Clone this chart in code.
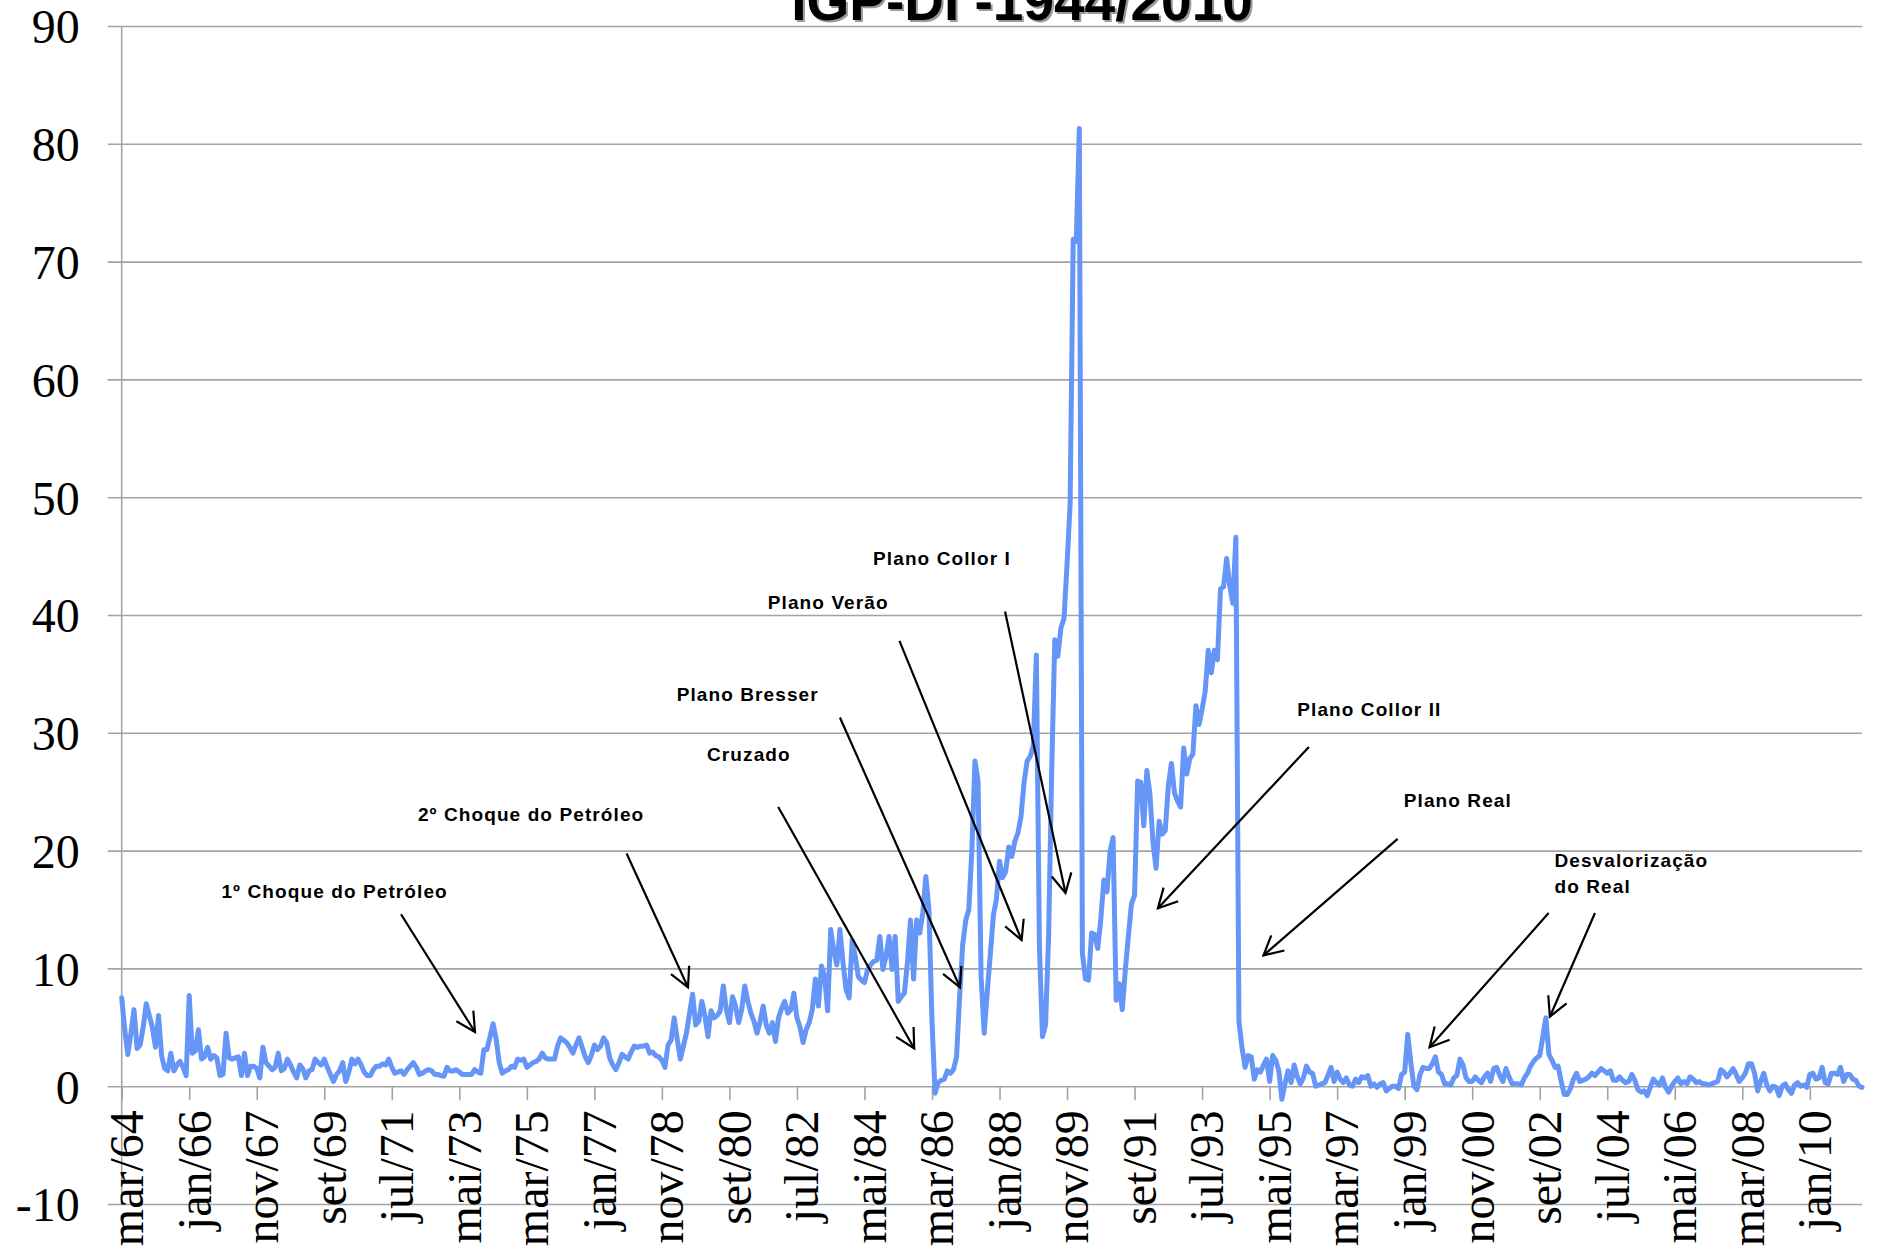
<!DOCTYPE html>
<html>
<head>
<meta charset="utf-8">
<script src="https://cdn.jsdelivr.net/npm/d3@7"></script>
<style>
  body { margin: 0; background: #fff; }
  svg { display: block; }
</style>
</head>
<body>
<div id="chart"></div>
<script>
// IGP-DI, variação mensal (%), mar/64 - jun/11
const igp1964to1969 = [
  7.5, 4.8, 2.7, 4.5, 6.5, 3.2, 3.5, 5.0, 7.0, 6.0,
  5.0, 3.3, 6.0, 2.6, 1.5, 1.3, 2.8, 1.3, 1.8, 2.1, 1.6, 0.9,
  7.7, 2.8, 3.0, 4.8, 2.3, 2.5, 3.3, 2.3, 2.6, 2.4, 0.9, 1.0,
  4.5, 2.4, 2.3, 2.4, 2.5, 0.9, 2.8, 0.9, 1.7, 1.7, 1.5, 0.7,
  3.3, 2.0, 1.7, 1.4, 1.6, 2.8, 1.3, 1.5, 2.3, 1.8, 1.2, 0.7,
  1.8, 1.5, 0.7, 1.3, 1.4, 2.3, 2.0, 1.8, 2.3, 1.6, 1.0, 0.4
];
const igp1970s = [
  1.0, 1.3, 2.0, 0.4, 1.2, 2.3, 1.9, 2.3, 1.8, 1.2, 0.9, 0.9,
  1.4, 1.7, 1.7, 1.9, 1.8, 2.3, 1.6, 1.1, 1.2, 1.3, 1.0, 1.4,
  1.7, 2.0, 1.6, 1.0, 1.1, 1.3, 1.4, 1.3, 1.0, 1.0, 0.9, 0.85,
  1.6, 1.3, 1.3, 1.4, 1.2, 1.0, 1.0, 1.0, 1.0, 1.4, 1.2, 1.1,
  3.1, 3.1, 4.2, 5.3, 4.0, 2.0, 1.1, 1.3, 1.4, 1.7, 1.6, 2.3,
  2.2, 2.3, 1.6, 1.8, 2.0, 2.1, 2.3, 2.8, 2.4, 2.3, 2.3, 2.3,
  3.4, 4.1, 3.9, 3.7, 3.3, 2.8, 3.5, 4.1, 3.3, 2.5, 2.0, 2.6,
  3.5, 3.1, 3.4, 4.1, 3.7, 2.4, 1.8, 1.4, 2.0, 2.7, 2.5, 2.3,
  2.9, 3.4, 3.3, 3.4, 3.4, 3.5, 2.8, 2.9, 2.6, 2.5, 2.2, 1.6,
  3.5, 3.9, 5.8, 4.0, 2.3, 3.4, 4.5, 6.2, 7.8, 5.2, 5.5, 7.2
];
const igp1980s = [
  6.0, 4.2, 6.4, 5.8, 6.0, 6.4, 8.5, 6.5, 5.4, 7.6, 6.8, 5.4,
  6.5, 8.5, 7.2, 6.2, 5.5, 4.5, 5.5, 6.8, 5.2, 4.5, 5.4, 3.8,
  5.8, 6.6, 7.2, 6.2, 6.5, 7.9, 5.8, 5.0, 3.7, 4.8, 5.4, 6.5,
  9.1, 6.8, 10.2, 9.3, 6.4, 13.3, 11.5, 10.3, 13.3, 10.5, 8.2, 7.5,
  12.4, 11.0, 9.3, 9.0, 8.8, 9.9, 10.3, 10.6, 10.7, 12.7, 9.9, 11.0,
  12.7, 9.9, 12.7, 7.2, 7.6, 7.9, 10.5, 14.1, 9.1, 14.1, 13.0, 14.7,
  17.8, 15.0, 5.5, -0.6, 0.3, 0.5, 0.6, 1.3, 1.1, 1.4, 2.5, 7.6,
  12.0, 14.1, 15.0, 20.1, 27.6, 25.9, 9.3, 4.5, 8.0, 11.2, 14.5, 15.9,
  19.1, 17.7, 18.2, 20.3, 19.5, 20.8, 21.5, 22.9, 25.8, 27.6, 28.0, 28.9,
  36.6, 11.8, 4.2, 5.2, 12.8, 26.8, 37.9, 36.5, 38.9, 39.7, 44.3, 49.4
];
const igp1990s = [
  71.9, 71.7, 81.3, 11.3, 9.1, 9.0, 13.0, 12.9, 11.7, 14.2, 17.5, 16.5,
  19.9, 21.1, 7.3, 8.7, 6.5, 9.9, 12.8, 15.5, 16.2, 25.9, 25.8, 22.1,
  26.8, 24.8, 20.7, 18.5, 22.5, 21.4, 21.7, 25.5, 27.4, 24.9, 24.2, 23.7,
  28.7, 26.5, 27.8, 28.2, 32.3, 30.7, 32.0, 33.5, 37.0, 35.1, 37.0, 36.2,
  42.2, 42.4, 44.8, 42.5, 41.0, 46.6, 5.5, 3.3, 1.6, 2.6, 2.5, 0.6,
  1.4, 1.2, 1.8, 2.3, 0.4, 2.6, 2.2, 1.3, -1.1, 0.2, 1.3, 0.3,
  1.8, 0.8, 0.2, 0.7, 1.7, 1.2, 1.1, 0.0, 0.1, 0.2, 0.3, 0.9,
  1.6, 0.4, 1.2, 0.6, 0.3, 0.7, 0.1, 0.0, 0.6, 0.3, 0.8, 0.7,
  0.9, 0.0, 0.2, -0.1, 0.2, 0.3, -0.4, -0.2, 0.0, 0.0, -0.2, 1.0,
  1.2, 4.4, 2.0, 0.0, -0.3, 1.0, 1.6, 1.5, 1.5, 1.9, 2.5, 1.2
];
const igp2000s = [
  1.0, 0.2, 0.2, 0.1, 0.7, 0.9, 2.3, 1.8, 0.7, 0.4, 0.4, 0.8,
  0.5, 0.3, 0.8, 1.1, 0.4, 1.5, 1.6, 0.9, 0.4, 1.5, 0.8, 0.2,
  0.2, 0.2, 0.1, 0.7, 1.1, 1.7, 2.1, 2.4, 2.6, 4.2, 5.8, 2.7,
  2.2, 1.6, 1.7, 0.4, -0.7, -0.7, -0.2, 0.6, 1.1, 0.4, 0.5, 0.6,
  0.8, 1.1, 0.9, 1.2, 1.5, 1.3, 1.1, 1.3, 0.5, 0.5, 0.8, 0.5,
  0.3, 0.4, 1.0, 0.5, -0.3, -0.5, -0.4, -0.8, -0.1, 0.6, 0.3, 0.1,
  0.7, -0.1, -0.5, 0.0, 0.4, 0.7, 0.2, 0.4, 0.2, 0.8, 0.6, 0.3,
  0.4, 0.2, 0.2, 0.1, 0.2, 0.3, 0.4, 1.4, 1.2, 0.8, 1.1, 1.5,
  1.0, 0.4, 0.7, 1.1, 1.9, 1.9, 1.1, -0.4, 0.4, 1.1, 0.1, -0.4,
  0.0, -0.1, -0.8, 0.0, 0.2, -0.3, -0.6, 0.1, 0.3, 0.0, 0.1, -0.1
];
const igp2010s = [
  1.0, 1.1, 0.6, 0.7, 1.6, 0.3, 0.2, 1.1, 1.1, 1.0, 1.6, 0.4,
  1.0, 1.0, 0.6, 0.5, 0.0, -0.1
];
const igpdi = [].concat(igp1964to1969, igp1970s, igp1980s, igp1990s, igp2000s, igp2010s);

const tickLabels = [
  "mar/64", "jan/66", "nov/67", "set/69", "jul/71", "mai/73", "mar/75", "jan/77", "nov/78",
  "set/80", "jul/82", "mai/84", "mar/86", "jan/88", "nov/89", "set/91", "jul/93", "mai/95",
  "mar/97", "jan/99", "nov/00", "set/02", "jul/04", "mai/06", "mar/08", "jan/10"
];
const tickEvery = 22; // one label every 22 months
const yTicks = [-10, 0, 10, 20, 30, 40, 50, 60, 70, 80, 90];

// annotations: label at (month, value), arrow from -> to in the same units
const notes = [
  { lines: ["1º Choque do Petróleo"], at: [32.5, 16.6], from: [91.0, 14.6], to: [115.1, 4.6] },
  { lines: ["2º Choque do Petróleo"], at: [96.5, 23.1], from: [164.5, 19.75], to: [184.5, 8.4] },
  { lines: ["Cruzado"], at: [190.7, 28.2], from: [213.9, 23.7], to: [258.2, 3.2] },
  { lines: ["Plano Bresser"], at: [180.8, 33.3], from: [234.0, 31.3], to: [273.1, 8.4] },
  { lines: ["Plano Verão"], at: [210.5, 41.1], from: [253.4, 37.8], to: [293.2, 12.4] },
  { lines: ["Plano Collor I"], at: [244.8, 44.8], from: [287.8, 40.3], to: [307.5, 16.4] },
  { lines: ["Plano Collor II"], at: [383.0, 32.0], from: [386.8, 28.8], to: [337.6, 15.1] },
  { lines: ["Plano Real"], at: [417.7, 24.3], from: [415.7, 21.0], to: [372.0, 11.1] },
  { lines: ["Desvalorização", "do Real"], at: [466.8, 19.2], from: [464.9, 14.7], to: [426.1, 3.3] },
  { lines: [], at: [0, 0], from: [480.0, 14.7], to: [465.3, 5.9] }
];

const width = 1878;
const height = 1254;
const plot = { left: 121.7, right: 1862, top: 26, bottom: 1204 };

const svg = d3
  .select("#chart")
  .append("svg")
  .attr("width", width)
  .attr("height", height)
  .style("background", "#fff");

const x = d3
  .scaleLinear()
  .domain([0, igpdi.length - 1])
  .range([plot.left, plot.right]);

const y = d3
  .scaleLinear()
  .domain([-10, 90])
  .range([plot.bottom, plot.top]);

// title (cut off at the top like the original)
const titleText = "IGP-DI -1944/2010";
svg
  .append("text")
  .attr("x", 1024)
  .attr("y", 22)
  .attr("text-anchor", "middle")
  .attr("font-family", "'Liberation Sans', Arial, sans-serif")
  .attr("font-weight", "bold")
  .attr("font-size", 55)
  .attr("fill", "#9a9a9a")
  .text(titleText);
svg
  .append("text")
  .attr("x", 1022)
  .attr("y", 20)
  .attr("text-anchor", "middle")
  .attr("font-family", "'Liberation Sans', Arial, sans-serif")
  .attr("font-weight", "bold")
  .attr("font-size", 55)
  .attr("fill", "#000")
  .text(titleText);

// y axis with gridlines
const yAxis = svg
  .append("g")
  .attr("transform", `translate(${plot.left},0)`)
  .call(
    d3
      .axisLeft(y)
      .tickValues(yTicks)
      .tickFormat((d) => (d < 0 ? "-" + Math.abs(d) : String(d)))
      .tickSizeInner(-(plot.right - plot.left))
      .tickSizeOuter(0)
      .tickPadding(42)
  );
yAxis.select(".domain").remove();
yAxis
  .selectAll(".tick line")
  .attr("x1", -14)
  .attr("stroke", "#a3a3a3")
  .attr("stroke-width", 1.6);
yAxis
  .selectAll(".tick text")
  .attr("font-family", "'Liberation Serif', 'Times New Roman', serif")
  .attr("font-size", 48)
  .attr("fill", "#000")
  .attr("dy", "0.35em");

svg
  .append("line")
  .attr("x1", plot.left)
  .attr("x2", plot.left)
  .attr("y1", y(90))
  .attr("y2", y(-10))
  .attr("stroke", "#a3a3a3")
  .attr("stroke-width", 1.6);

// x axis on the zero line
const xTickValues = tickLabels.map((d, i) => i * tickEvery);
const xAxis = svg
  .append("g")
  .attr("transform", `translate(0,${y(0)})`)
  .call(
    d3
      .axisBottom(x)
      .tickValues(xTickValues)
      .tickFormat((d, i) => tickLabels[i])
      .tickSize(14)
  );
xAxis.select(".domain").remove();
xAxis.selectAll(".tick line").attr("stroke", "#a3a3a3").attr("stroke-width", 1.6);
xAxis
  .selectAll(".tick text")
  .attr("transform", "rotate(-90)")
  .attr("text-anchor", "end")
  .attr("x", -24)
  .attr("y", 4)
  .attr("dy", "0.35em")
  .attr("font-family", "'Liberation Serif', 'Times New Roman', serif")
  .attr("font-size", 48)
  .attr("fill", "#000");

// series
const line = d3
  .line()
  .x((d, i) => x(i))
  .y((d) => y(d));

svg
  .append("path")
  .datum(igpdi)
  .attr("fill", "none")
  .attr("stroke", "#6495f7")
  .attr("stroke-width", 5)
  .attr("stroke-linejoin", "round")
  .attr("stroke-linecap", "round")
  .attr("d", line);

// annotation arrows
svg
  .append("defs")
  .append("marker")
  .attr("id", "head")
  .attr("markerUnits", "userSpaceOnUse")
  .attr("viewBox", "-24 -14 28 28")
  .attr("markerWidth", 28)
  .attr("markerHeight", 28)
  .attr("refX", 0)
  .attr("refY", 0)
  .attr("orient", "auto")
  .append("path")
  .attr("d", "M-19,-10L0,0L-19,10")
  .attr("fill", "none")
  .attr("stroke", "#000")
  .attr("stroke-width", 2.2);

svg
  .append("g")
  .selectAll("line")
  .data(notes)
  .join("line")
  .attr("x1", (d) => x(d.from[0]))
  .attr("y1", (d) => y(d.from[1]))
  .attr("x2", (d) => x(d.to[0]))
  .attr("y2", (d) => y(d.to[1]))
  .attr("stroke", "#000")
  .attr("stroke-width", 2.2)
  .attr("marker-end", "url(#head)");

const noteText = svg
  .append("g")
  .selectAll("text")
  .data(notes.filter((d) => d.lines.length))
  .join("text")
  .attr("x", (d) => x(d.at[0]))
  .attr("y", (d) => y(d.at[1]))
  .attr("dominant-baseline", "central")
  .attr("font-family", "'Liberation Sans', Arial, sans-serif")
  .attr("font-weight", "bold")
  .attr("font-size", 19)
  .attr("letter-spacing", 1.1)
  .attr("fill", "#000");

noteText
  .selectAll("tspan")
  .data((d) => d.lines.map((t) => ({ t, x: x(d.at[0]) })))
  .join("tspan")
  .attr("x", (d) => d.x)
  .attr("dy", (d, i) => (i === 0 ? 0 : 26))
  .text((d) => d.t);
</script>
</body>
</html>
